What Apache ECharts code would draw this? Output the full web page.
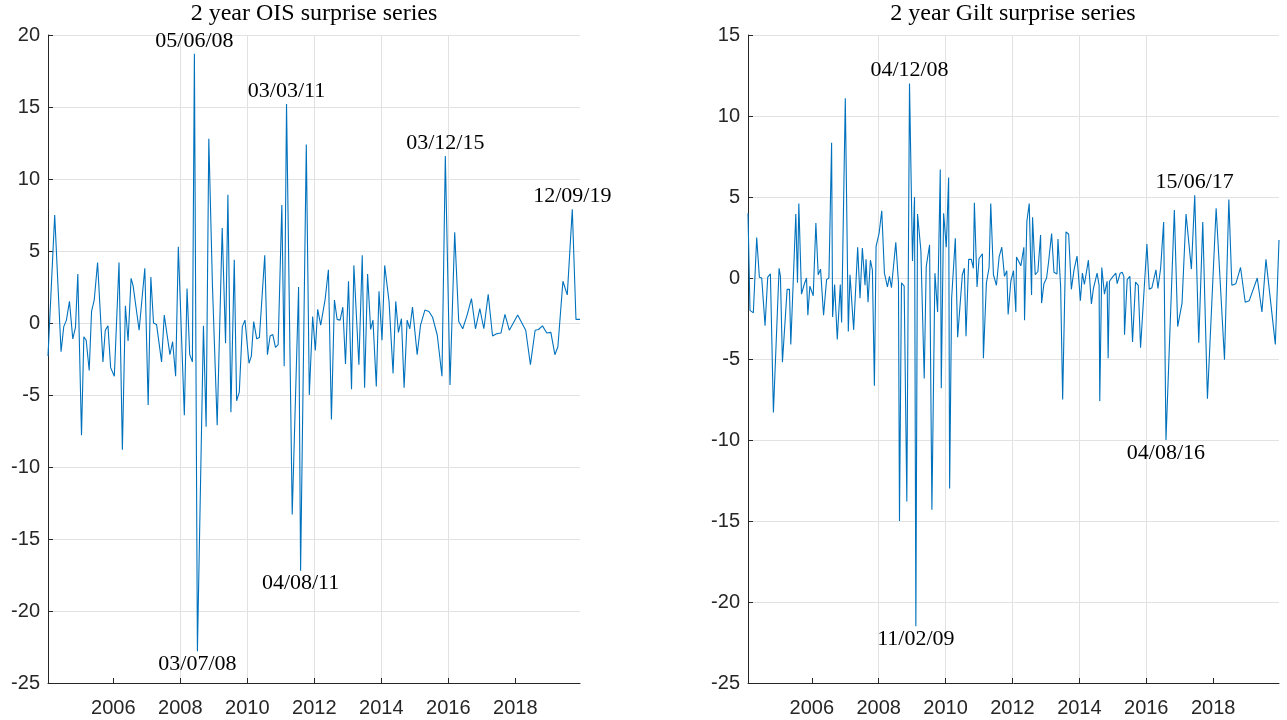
<!DOCTYPE html>
<html><head><meta charset="utf-8">
<script src="https://cdn.jsdelivr.net/npm/echarts@6/dist/echarts.min.js"></script>
<style>html,body{margin:0;padding:0;background:#fff}#c{width:1287px;height:720px}</style>
</head><body><div id="c"></div>
<script>
// ---- data (decimal years, surprise in bp) ----
const oisDates = [2004.05,2004.25,2004.44,2004.52,2004.60,2004.69,2004.79,2004.87,2004.94,2005.05,2005.12,2005.19,2005.28,2005.35,2005.43,2005.53,2005.69,2005.76,2005.84,2005.92,
2006.03,2006.17,2006.27,2006.36,2006.44,2006.53,2006.59,2006.77,2006.94,2007.04,2007.12,2007.20,2007.29,2007.44,2007.52,2007.69,2007.77,2007.86,2007.94,
2008.12,2008.20,2008.28,2008.36,2008.42,2008.51,2008.69,2008.77,2008.85,2008.96,2009.10,2009.25,2009.35,2009.42,2009.51,2009.61,2009.68,2009.76,2009.85,2009.93,
2010.05,2010.12,2010.19,2010.28,2010.36,2010.52,2010.60,2010.68,2010.76,2010.84,2010.92,2011.03,2011.10,2011.17,2011.34,2011.53,2011.59,2011.76,2011.85,2011.95,
2012.03,2012.10,2012.19,2012.32,2012.42,2012.51,2012.60,2012.68,2012.77,2012.85,2012.93,2013.02,2013.11,2013.18,2013.33,2013.43,2013.50,2013.59,2013.68,2013.75,2013.85,2013.93,
2014.02,2014.10,2014.23,2014.35,2014.43,2014.51,2014.60,2014.68,2014.77,2014.85,2014.93,2015.07,2015.17,2015.30,2015.42,2015.53,2015.67,2015.81,2015.91,
2016.05,2016.19,2016.31,2016.43,2016.56,2016.69,2016.81,2016.94,2017.06,2017.19,2017.32,2017.44,2017.57,2017.69,2017.82,
2018.07,2018.31,2018.45,2018.59,2018.69,2018.81,2018.94,2019.06,2019.18,2019.27,2019.42,2019.55,2019.70,2019.81,2019.93];
const oisValues = [-2.3,7.5,-2.0,-0.25,0.2,1.5,-1.1,-0.3,3.4,-7.8,-0.95,-1.2,-3.3,0.8,1.6,4.2,-2.7,-0.5,-0.2,-3.1,
-3.7,4.2,-8.8,1.2,-1.25,3.1,2.6,-0.5,3.8,-5.7,3.2,0.0,-0.1,-2.7,0.55,-2.2,-1.3,-3.7,5.3,
-6.4,2.4,-2.2,-2.7,18.7,-22.8,-0.2,-7.2,12.8,2.5,-7.1,6.6,-1.4,8.9,-6.2,4.4,-5.4,-4.8,-0.25,0.2,
-2.8,-2.3,0.1,-1.1,-1.0,4.7,-2.2,-0.9,-0.8,-1.7,-1.5,8.2,-3.0,15.2,-13.3,2.5,-17.2,12.4,-5.0,0.45,
-1.9,0.95,-0.15,1.6,3.7,-6.7,1.6,0.25,0.2,1.1,-2.85,2.9,-4.6,4.0,-2.9,4.7,-4.5,3.4,-0.45,0.2,-4.4,2.2,
-1.2,4.0,1.5,-3.5,1.5,-0.65,0.3,-4.5,0.2,-0.4,1.1,-2.2,-0.15,0.9,0.8,0.4,-0.85,-3.7,11.6,
-4.3,6.3,0.1,-0.4,0.55,1.7,-0.4,1.0,-0.4,2.0,-0.9,-0.75,-0.7,0.6,-0.5,
0.55,-0.5,-2.9,-0.5,-0.45,-0.2,-0.7,-0.65,-2.2,-1.65,2.9,1.95,7.9,0.25,0.25];
const oisEvents = ['05/06/08','03/07/08','03/03/11','04/08/11','03/12/15','12/09/19'];

const giltDates = [2004.09,2004.15,2004.25,2004.35,2004.43,2004.50,2004.60,2004.68,2004.76,2004.85,2005.02,2005.06,2005.12,2005.26,2005.33,2005.37,2005.52,2005.57,2005.61,2005.69,2005.77,2005.84,2005.88,2005.94,
2006.04,2006.12,2006.19,2006.26,2006.35,2006.44,2006.51,2006.59,2006.62,2006.68,2006.76,2006.85,2006.89,2007.00,2007.09,2007.14,2007.25,2007.37,2007.44,2007.51,2007.59,2007.62,2007.68,2007.75,2007.81,2007.87,2007.92,
2008.01,2008.09,2008.17,2008.26,2008.32,2008.38,2008.51,2008.59,2008.62,2008.68,2008.76,2008.84,2008.92,2009.01,2009.07,2009.11,2009.16,2009.26,2009.36,2009.42,2009.52,2009.59,2009.68,2009.76,2009.84,2009.87,2009.94,
2010.02,2010.09,2010.12,2010.18,2010.29,2010.36,2010.50,2010.56,2010.61,2010.69,2010.77,2010.83,2010.86,2010.94,2011.00,2011.10,2011.13,2011.22,2011.30,2011.35,2011.43,2011.52,2011.60,2011.68,2011.76,2011.83,2011.87,2011.95,
2012.03,2012.10,2012.12,2012.25,2012.34,2012.36,2012.43,2012.50,2012.57,2012.60,2012.68,2012.76,2012.84,2012.87,2012.94,2013.02,2013.08,2013.17,2013.24,2013.33,2013.36,2013.44,2013.50,2013.60,2013.68,2013.76,2013.84,2013.93,
2014.03,2014.09,2014.15,2014.27,2014.36,2014.42,2014.53,2014.59,2014.61,2014.67,2014.75,2014.83,2014.86,2014.90,2014.99,2015.09,2015.13,2015.22,2015.28,2015.33,2015.35,2015.43,2015.51,2015.59,2015.68,2015.76,2015.83,
2016.02,2016.09,2016.17,2016.22,2016.29,2016.35,2016.43,2016.52,2016.59,2016.84,2016.94,2017.07,2017.19,2017.35,2017.45,2017.57,2017.69,2017.83,
2018.09,2018.34,2018.47,2018.56,2018.68,2018.82,2018.96,2019.08,2019.32,2019.46,2019.58,2019.86,2019.97];
const giltValues = [4.0,-2.0,-2.15,2.5,0.05,0.0,-2.95,0.05,0.25,-8.3,0.6,0.1,-5.2,-0.7,-0.7,-4.1,3.95,-0.3,4.6,-1.0,-0.4,0.0,-2.3,-0.5,
-1.1,3.4,0.2,0.55,-2.3,-0.1,0.0,8.35,-2.4,-0.4,-3.8,-0.4,-2.75,11.1,-3.3,0.2,-3.2,1.9,-1.25,1.85,-0.45,1.15,-1.5,1.1,0.5,-6.65,1.95,
2.75,4.15,0.3,-0.55,0.1,-0.6,2.2,-0.3,-15.0,-0.3,-0.5,-13.8,12.0,1.05,5.0,-21.5,3.95,1.7,-6.2,0.7,2.05,-14.3,0.3,-2.1,6.7,-6.8,4.0,
1.9,6.2,-13.0,-1.25,2.45,-3.65,0.2,0.6,-3.6,1.15,1.15,0.6,4.65,-0.55,1.2,1.5,-4.95,-0.3,0.65,4.6,0.2,-0.45,1.3,1.9,0.1,0.45,-2.25,-0.2,
0.45,-2.1,1.3,0.75,1.9,-2.6,3.5,4.6,-1.05,3.75,0.2,0.4,2.65,-1.55,-0.35,0.0,1.0,2.75,0.35,0.25,2.4,-0.55,-7.5,2.85,2.7,-0.7,0.5,1.35,
-1.4,0.3,-0.4,1.1,-1.6,-0.65,0.3,-0.45,-7.6,0.65,-1.0,-0.2,-4.95,-0.2,0.05,0.3,-0.35,0.3,0.35,0.1,-3.5,-0.1,0.1,-3.95,-0.25,-0.45,-4.3,
2.1,-0.7,-0.6,-0.55,0.5,-0.65,0.6,3.45,-10.0,4.2,-3.0,-1.55,3.95,0.55,5.1,-4.0,3.45,-7.45,
4.3,-5.05,4.85,-0.45,-0.35,0.65,-1.5,-1.4,0.0,-2.1,1.15,-4.1,2.35];
const giltEvents = ['04/12/08','11/02/09','04/08/16','15/06/17'];

const yearTicks = [2006,2008,2010,2012,2014,2016,2018];
const titles = ['2 year OIS surprise series','2 year Gilt surprise series'];
const oisRange = [-25, 20];
const giltRange = [-25, 15];

// ---- helpers ----
function eventYear(s){
  const p = s.split('/').map(Number);
  return 2000 + p[2] + (p[1]-1)/12 + (p[0]-1)/365;
}
function buildData(dates, vals, events){
  const idx = events.map(e=>{
    const t = eventYear(e); let best=0, bd=1e9;
    dates.forEach((d,i)=>{ const dd=Math.abs(d-t); if(dd<bd){bd=dd;best=i;} });
    return best;
  });
  return dates.map((d,i)=>{
    const k = idx.indexOf(i);
    if(k<0) return [d, vals[i]];
    return {value:[d, vals[i]], label:{show:true, formatter:events[k],
      position: vals[i]>=0 ? 'top' : 'bottom', distance: 2,
      fontFamily:'Liberation Serif', fontSize:22, color:'#000'}};
  });
}

const axisColor = '#262626';
const gridColor = '#e2e2e2';
function xAxis(gi, dates){
  return {type:'value', gridIndex:gi, min:dates[0], max:dates[dates.length-1],
    axisLine:{show:true, onZero:false, lineStyle:{color:axisColor, width:1}},
    axisTick:{show:true, inside:true, length:5, customValues:yearTicks, lineStyle:{color:axisColor}},
    axisLabel:{customValues:yearTicks, formatter:v=>String(Math.round(v)), color:axisColor, fontSize:20, fontFamily:'Liberation Sans', margin:15},
    splitLine:{show:true, showMinLine:false, showMaxLine:false, lineStyle:{color:gridColor, width:1}}};
}
function yAxis(gi, range){
  return {type:'value', gridIndex:gi, min:range[0], max:range[1], interval:5,
    axisLine:{show:true, onZero:false, lineStyle:{color:axisColor, width:1}},
    axisTick:{show:true, inside:true, length:5, lineStyle:{color:axisColor}},
    axisLabel:{color:axisColor, fontSize:20, fontFamily:'Liberation Sans', margin:8},
    splitLine:{show:true, showMinLine:false, lineStyle:{color:gridColor, width:1}}};
}
function lineSeries(gi, data){
  return {type:'line', xAxisIndex:gi, yAxisIndex:gi, data:data,
    showSymbol:true, symbol:'circle', symbolSize:0, clip:true,
    lineStyle:{color:'#0072BD', width:1.1}, itemStyle:{color:'#0072BD'},
    emphasis:{disabled:true}, z:3};
}

const chart = echarts.init(document.getElementById('c'), null, {renderer:'canvas'});
chart.setOption({
  animation:false,
  backgroundColor:'#fff',
  title:[
    {text:titles[0], left:314, top:2, textAlign:'center', padding:0,
     textStyle:{fontFamily:'Liberation Serif', fontSize:24, fontWeight:'normal', color:'#000'}},
    {text:titles[1], left:1013, top:2, textAlign:'center', padding:0,
     textStyle:{fontFamily:'Liberation Serif', fontSize:24, fontWeight:'normal', color:'#000'}}
  ],
  grid:[
    {left:48, top:35, width:532, height:648},
    {left:748, top:35, width:531, height:648}
  ],
  xAxis:[xAxis(0, oisDates), xAxis(1, giltDates)],
  yAxis:[yAxis(0, oisRange), yAxis(1, giltRange)],
  series:[
    lineSeries(0, buildData(oisDates, oisValues, oisEvents)),
    lineSeries(1, buildData(giltDates, giltValues, giltEvents))
  ]
});
</script></body></html>
